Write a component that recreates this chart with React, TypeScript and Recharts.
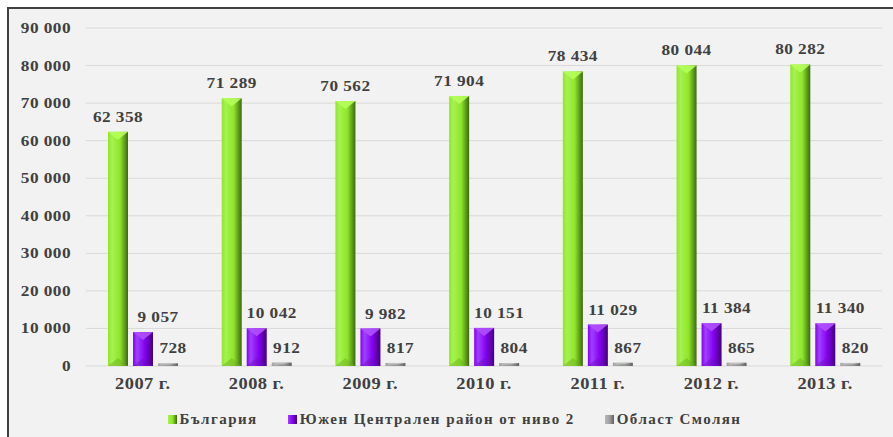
import React from 'react';
import { BarChart, Bar, XAxis, YAxis, CartesianGrid, Legend, LabelList } from 'recharts';

const categories = ['2007 г.', '2008 г.', '2009 г.', '2010 г.', '2011 г.', '2012 г.', '2013 г.'];
const bulgaria = [62358, 71289, 70562, 71904, 78434, 80044, 80282];
const southCentral = [9057, 10042, 9982, 10151, 11029, 11384, 11340];
const smolyan = [728, 912, 817, 804, 867, 865, 820];
const yTicks = [0, 10000, 20000, 30000, 40000, 50000, 60000, 70000, 80000, 90000];
const seriesNames = ['България', 'Южен Централен район от ниво 2', 'Област Смолян'];

const data = categories.map((c, i) => ({
  name: c,
  bg: bulgaria[i],
  sc: southCentral[i],
  sm: smolyan[i],
}));

const FONT = '"Liberation Serif", "Times New Roman", serif';
const TEXT = '#404040';
const SX = 1.15;

const fmt = (v: number) => String(v).replace(/\B(?=(\d{3})+(?!\d))/g, ' ');

const palettes: Record<string, { light: string; base: string; dark: string; top: string; bottom: string }> = {
  g: { light: '#a6f250', base: '#8ee62a', dark: '#3c6a10', top: '#b4ff5a', bottom: '#6aaa20' },
  p: { light: '#a040ff', base: '#8400f0', dark: '#42007a', top: '#b050ff', bottom: '#6a10b8' },
  s: { light: '#b8b8b8', base: '#a0a0a0', dark: '#606060', top: '#c4c4c4', bottom: '#8a8a8a' },
};

const makeShape = (key: string) => (props: any) => {
  const { x, y, width, height } = props;
  if (!height || height <= 0) return null;
  const pal = palettes[key];
  const b = Math.min(width / 2, height / 2, 8);
  return (
    <g>
      <rect x={x} y={y} width={width} height={height} fill={`url(#grad-${key})`} />
      <polygon points={`${x},${y} ${x + width},${y} ${x + width / 2},${y + b}`} fill={pal.top} opacity={0.9} />
      <polygon points={`${x},${y + height} ${x + width},${y + height} ${x + width / 2},${y + height - b}`} fill={pal.bottom} opacity={0.45} />
    </g>
  );
};

const StretchText = ({ x, y, anchor, size, children }: any) => (
  <text
    transform={`translate(${x},${y}) scale(${SX},1)`}
    x={0}
    y={0}
    textAnchor={anchor}
    fill={TEXT}
    style={{ fontFamily: FONT, fontWeight: 'bold', fontSize: size, letterSpacing: 0.4 }}
  >
    {children}
  </text>
);

const makeLabel = (dx: number) => (props: any) => {
  const { x, y, width, value } = props;
  return (
    <StretchText x={x + width / 2 + dx} y={y - 10} anchor="middle" size={15}>
      {fmt(value)}
    </StretchText>
  );
};

const XTick = (props: any) => {
  const { x, y, payload } = props;
  return (
    <StretchText x={x} y={y + 17} anchor="middle" size={16}>
      {payload.value}
    </StretchText>
  );
};

const YTick = (props: any) => {
  const { x, y, payload } = props;
  return (
    <StretchText x={x} y={y + 5} anchor="end" size={15}>
      {fmt(payload.value)}
    </StretchText>
  );
};

const legendColors = ['g', 'p', 's'];

const LegendContent = () => (
  <div
    style={{
      display: 'flex',
      justifyContent: 'center',
      alignItems: 'center',
      height: 36,
      fontFamily: FONT,
      fontWeight: 'bold',
      fontSize: 15,
      letterSpacing: 1.45,
      color: TEXT,
      paddingLeft: 18,
    }}
  >
    {seriesNames.map((n, i) => (
      <div key={n} style={{ display: 'flex', alignItems: 'center', marginRight: i < 2 ? 30 : 0 }}>
        <div
          style={{
            width: 9,
            height: 9,
            marginRight: 3,
            background: `linear-gradient(to right, ${palettes[legendColors[i]].light}, ${palettes[legendColors[i]].base} 50%, ${palettes[legendColors[i]].dark})`,
          }}
        />
        <span>{n}</span>
      </div>
    ))}
  </div>
);

export default function App() {
  return (
    <div
      style={{
        position: 'absolute',
        left: 7,
        top: 7,
        width: 886,
        height: 430,
        background: '#f2f2f2',
        borderTop: '2px solid #404040',
        borderLeft: '2px solid #404040',
      }}
    >
      <BarChart
        width={884}
        height={428}
        data={data}
        margin={{ top: 19, right: 11, bottom: 0, left: 0 }}
        barSize={20}
        barGap={5}
        style={{ fontFamily: FONT }}
      >
        <defs>
          {Object.keys(palettes).map((k) => (
            <linearGradient key={k} id={`grad-${k}`} x1="0" y1="0" x2="1" y2="0">
              <stop offset="0%" stopColor={palettes[k].base} />
              <stop offset="20%" stopColor={palettes[k].light} />
              <stop offset="60%" stopColor={palettes[k].base} />
              <stop offset="100%" stopColor={palettes[k].dark} />
            </linearGradient>
          ))}
        </defs>
        <CartesianGrid vertical={false} stroke="#d9d9d9" />
        <XAxis
          dataKey="name"
          axisLine={false}
          tickLine={false}
          height={35}
          tick={<XTick />}
          tickMargin={0}
        />
        <YAxis
          width={77}
          domain={[0, 90000]}
          ticks={yTicks}
          axisLine={false}
          tickLine={false}
          tickMargin={9}
          tick={<YTick />}
        />
        <Legend verticalAlign="bottom" content={<LegendContent />} />
        <Bar dataKey="bg" name={seriesNames[0]} shape={makeShape('g')} isAnimationActive={false}>
          <LabelList dataKey="bg" content={makeLabel(0)} />
        </Bar>
        <Bar dataKey="sc" name={seriesNames[1]} shape={makeShape('p')} isAnimationActive={false}>
          <LabelList dataKey="sc" content={makeLabel(15)} />
        </Bar>
        <Bar dataKey="sm" name={seriesNames[2]} shape={makeShape('s')} isAnimationActive={false}>
          <LabelList dataKey="sm" content={makeLabel(5)} />
        </Bar>
      </BarChart>
    </div>
  );
}
